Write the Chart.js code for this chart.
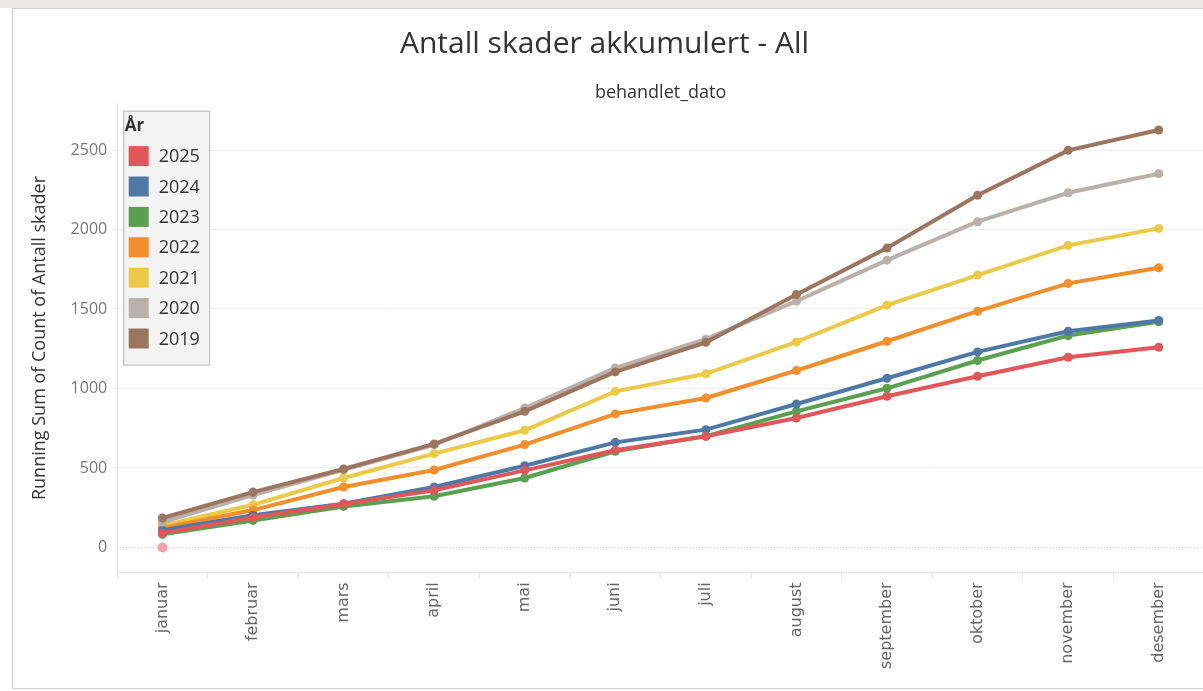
<!DOCTYPE html>
<html>
<head>
<meta charset="utf-8">
<script src="https://cdn.jsdelivr.net/npm/chart.js@4.4.1/dist/chart.umd.min.js"></script>
<style>
  html, body { margin: 0; padding: 0; background: #ffffff; width: 1203px; height: 691px; overflow: hidden; }
  #band { position: absolute; left: 0; top: 0; width: 1203px; height: 8px; background: #ebe8e5; }
  #frame { position: absolute; left: 12px; top: 8px; width: 1200px; height: 679px; border: 1px solid #cfcfcf; background: #fff; }
  #wrap { position: absolute; left: 0; top: 0; width: 1203px; height: 691px; overflow: hidden; }
</style>
</head>
<body>
<div id="band"></div>
<div id="frame"></div>
<div id="wrap"><canvas id="c" width="1209" height="691"></canvas></div>
<script>
const months = ['januar','februar','mars','april','mai','juni','juli','august','september','oktober','november','desember'];
const yTickValues = [0, 500, 1000, 1500, 2000, 2500];
const years = ['2025','2024','2023','2022','2021','2020','2019'];
const y2025 = [90, 188, 273, 359, 485, 611, 699, 814, 951, 1077, 1196, 1259];
const y2024 = [108, 203, 275, 380, 514, 661, 741, 902, 1064, 1230, 1360, 1428];
const y2023 = [82, 170, 258, 322, 437, 605, 700, 856, 1001, 1176, 1333, 1420];
const y2022 = [122, 235, 380, 487, 647, 840, 940, 1113, 1297, 1486, 1661, 1759];
const y2021 = [138, 268, 437, 590, 737, 982, 1092, 1293, 1524, 1713, 1900, 2007];
const y2020 = [160, 330, 488, 646, 877, 1129, 1310, 1549, 1807, 2049, 2231, 2351];
const y2019 = [185, 348, 493, 651, 856, 1104, 1290, 1591, 1883, 2215, 2498, 2626];
const zeroMarker = [0, null, null, null, null, null, null, null, null, null, null, null];
const seriesValues = [y2025, y2024, y2023, y2022, y2021, y2020, y2019];
const colors = ['#e15759','#4e79a7','#59a14f','#f28e2b','#edc948','#bab0ac','#9c755f'];
const drawOrder = [0, 3, 4, 5, 6, 2, 1];

const datasets = years.map((yr, i) => ({
  label: yr,
  data: seriesValues[i],
  xAxisID: 'x',
  yAxisID: 'y',
  borderColor: colors[i],
  backgroundColor: colors[i],
  pointBackgroundColor: colors[i],
  pointBorderColor: colors[i],
  borderWidth: 4,
  pointRadius: 4.5,
  pointBorderWidth: 0,
  tension: 0,
  order: drawOrder[i],
  inLegend: true
}));
datasets.push({
  label: '',
  data: zeroMarker,
  xAxisID: 'x',
  yAxisID: 'y',
  showLine: false,
  pointRadius: 5,
  pointBorderWidth: 0,
  pointBackgroundColor: '#f7a1aa',
  borderColor: '#f7a1aa',
  order: 10,
  inLegend: false
});

const FONT = '"Open Sans", "Liberation Sans", sans-serif';

const extras = {
  id: 'extras',
  beforeDatasetsDraw(chart) {
    const { ctx, chartArea, scales } = chart;
    const y0 = Math.round(scales.y.getPixelForValue(0)) + 0.5;
    ctx.save();
    ctx.strokeStyle = '#c4c4c4';
    ctx.lineWidth = 1;
    ctx.setLineDash([1, 2]);
    ctx.beginPath();
    ctx.moveTo(chartArea.left, y0);
    ctx.lineTo(chartArea.right, y0);
    ctx.stroke();
    ctx.restore();
  },
  afterDraw(chart) {
    const { ctx, chartArea } = chart;
    const items = chart.data.datasets.filter(d => d.inLegend);
    const bx = chartArea.left + 6.5, by = chartArea.top + 7.5;
    const bw = 86, bh = 254;
    ctx.save();
    ctx.fillStyle = '#f3f3f3';
    ctx.fillRect(bx, by, bw, bh);
    ctx.strokeStyle = '#b4b4b4';
    ctx.lineWidth = 1;
    ctx.strokeRect(bx, by, bw, bh);
    ctx.fillStyle = '#333';
    ctx.font = 'bold 17px ' + FONT;
    ctx.textBaseline = 'middle';
    ctx.textAlign = 'left';
    ctx.fillText('År', bx + 1, by + 15);
    ctx.font = '18px ' + FONT;
    items.forEach((d, i) => {
      const cy = by + 45 + i * 30.4;
      ctx.fillStyle = d.borderColor;
      ctx.fillRect(bx + 5, cy - 10, 20, 20);
      ctx.fillStyle = '#333';
      ctx.fillText(d.label, bx + 35, cy + 1);
    });
    ctx.restore();
  }
};

new Chart(document.getElementById('c'), {
  type: 'line',
  data: { labels: months, datasets },
  plugins: [extras],
  options: {
    responsive: false,
    animation: false,
    layout: { padding: { left: 0, right: 0, top: 0, bottom: 18 } },
    plugins: {
      legend: { display: false },
      tooltip: { enabled: false },
      title: {
        display: true,
        text: 'Antall skader akkumulert - All',
        color: '#333',
        font: { family: FONT, size: 30, weight: 'normal' },
        padding: { top: 26, bottom: 20 }
      }
    },
    scales: {
      x: {
        type: 'category',
        offset: true,
        ticks: {
          minRotation: 90,
          maxRotation: 90,
          autoSkip: false,
          color: '#666',
          padding: 4,
          font: { family: '"DejaVu Sans", sans-serif', size: 16 }
        },
        grid: {
          offset: true,
          drawOnChartArea: false,
          drawTicks: true,
          tickLength: 6,
          color: '#e4e4e4'
        },
        border: { display: true, color: '#e4e4e4' }
      },
      x2: {
        type: 'category',
        position: 'top',
        labels: months,
        offset: true,
        ticks: { display: false, padding: 0 },
        grid: { display: false, drawTicks: false, tickLength: 0 },
        border: { display: false },
        title: {
          display: true,
          text: 'behandlet_dato',
          color: '#333',
          font: { family: FONT, size: 18 },
          padding: { top: 0, bottom: 0 }
        }
      },
      y: {
        min: -157,
        max: 2792,
        afterBuildTicks(scale) { scale.ticks = yTickValues.map(v => ({ value: v })); },
        ticks: {
          color: '#777',
          padding: 4,
          font: { family: FONT, size: 16 },
          callback: v => String(v)
        },
        grid: {
          color: ctx => (ctx.tick && ctx.tick.value === 0) ? 'rgba(0,0,0,0)' : '#efefef',
          tickLength: 6,
          drawTicks: true
        },
        border: { display: true, color: '#e4e4e4' },
        title: {
          display: true,
          text: 'Running Sum of Count of Antall skader',
          color: '#333',
          font: { family: FONT, size: 18 },
          padding: { top: 29, bottom: 16 }
        }
      }
    }
  }
});
</script>
</body>
</html>
